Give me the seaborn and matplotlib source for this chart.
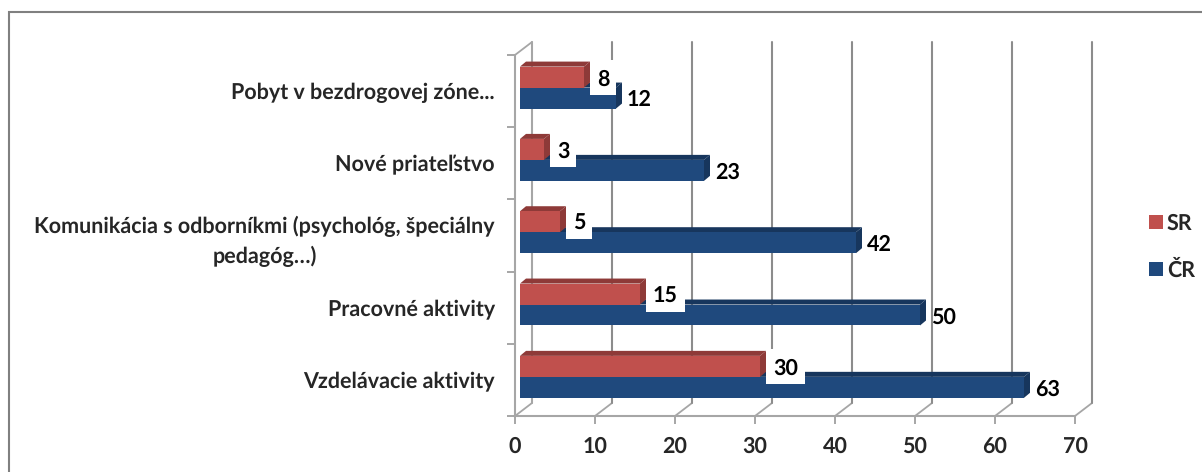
import matplotlib
matplotlib.use("Agg")
import matplotlib.pyplot as plt
import seaborn as sns
import pandas as pd
from matplotlib.lines import Line2D
from matplotlib.patches import Polygon, Rectangle, Patch
from matplotlib.transforms import IdentityTransform

categories = ["Pobyt v bezdrogovej zóne...", "Nové priateľstvo",
              "Komunikácia s odborníkmi (psychológ, špeciálny\npedagóg…)",
              "Pracovné aktivity", "Vzdelávacie aktivity"]
series_names = ["SR", "ČR"]
sr_values = [8, 3, 5, 15, 30]
cr_values = [12, 23, 42, 50, 63]
x_ticks = [0, 10, 20, 30, 40, 50, 60, 70]

RED, BLUE = "#C0504D", "#1F497D"
DARK = {RED: "#8E3A38", BLUE: "#17365D"}
AXC = "#A6A6A6"
GRID = "#8C8C8C"
FS = 15.5

W, H = 1202, 472
sns.set_theme(style="white")
plt.rcParams['font.family'] = ['Lato', 'DejaVu Sans']
plt.rcParams['font.weight'] = 'bold'
plt.rcParams['text.hinting'] = 'no_hinting'
fig = plt.figure(figsize=(W / 100, H / 100), dpi=100)

def px_axes(l, t, r, b, **kw):
    return fig.add_axes([l / W, 1 - b / H, (r - l) / W, (b - t) / H], **kw)

# chart border (only left and top fall inside the crop)
fig.add_artist(Line2D([9 / W, 9 / W, 1], [0, 1 - 12 / H, 1 - 12 / H], transform=fig.transFigure,
                      color="#808080", lw=1.5, solid_joinstyle="miter"))

# frame axes: floor + left wall + back wall
fr = px_axes(515, 55, 1075, 416, facecolor="none")
fr.set_xlim(0, 70)
fr.set_ylim(0, 5)
for s in ("top", "right"):
    fr.spines[s].set_visible(False)
for s in ("left", "bottom"):
    fr.spines[s].set_color(AXC)
    fr.spines[s].set_linewidth(1.5)
dx, dy = 17 / 8, 13 / (361 / 5)
for v in x_ticks:
    fr.plot([v, v + dx], [0, dy], color=AXC, lw=1.3, clip_on=False, zorder=1)
    fr.plot([v + dx, v + dx], [dy, 5 + dy], color=GRID if v else AXC, lw=1.5, clip_on=False, zorder=1)
fr.plot([0, dx], [5, 5 + dy], color=AXC, lw=1.3, clip_on=False, zorder=1)
fr.set_xticks(x_ticks)
fr.set_yticks(range(6))
fr.set_yticklabels([])
fr.set_yticks([i + .5 for i in range(5)], categories[::-1], minor=True, ha="right",
              multialignment="center", fontsize=FS, linespacing=1.5)
fr.tick_params(axis="y", which="minor", length=0, pad=14.4)
fr.tick_params(axis="both", which="major", length=5.5, width=1.4, color=AXC, left=True, bottom=True)
fr.tick_params(axis="x", labelsize=FS, pad=9)

# bars axes
ax = px_axes(520, 51.4, 1080, 413, facecolor="none", zorder=3)
df = pd.DataFrame({"cat": categories * 2,
                   "val": sr_values + cr_values,
                   "ser": [series_names[0]] * 5 + [series_names[1]] * 5})
sns.barplot(data=df, y="cat", x="val", hue="ser", hue_order=series_names, order=categories,
            palette=[RED, BLUE], saturation=1, width=0.58, gap=0, legend=False, ax=ax,
            edgecolor="none", zorder=5)
ax.set_xlim(0, 70)
ax.set_ylim(4.5, -0.5)
ax.axis("off")
ex, ey = 6 / 8, 5 / (361.6 / 5)
bars = [p for p in ax.patches if p.get_width() > 0]
renderer = fig.canvas.get_renderer()
for p in bars:
    is_red = abs(p.get_facecolor()[0] - 0.753) < .01
    col = RED if is_red else BLUE
    x1, y0, h = p.get_width(), p.get_y(), p.get_height()
    z = 4 if col == BLUE else 7
    p.set_zorder(z + 1)
    ax.add_patch(Polygon([(0, y0), (x1, y0), (x1 + ex, y0 - ey), (ex, y0 - ey)], fc=DARK[col], ec="none", zorder=z))
    ax.add_patch(Polygon([(x1, y0), (x1 + ex, y0 - ey), (x1 + ex, y0 + h - ey), (x1, y0 + h)], fc=DARK[col], ec="none", zorder=z))
    t = ax.annotate(f"{int(x1)}", (x1 + ex, y0 + h / 2), xytext=(5 if is_red else 3.6, -1.5), textcoords="offset points",
                    ha="left", va="center", fontsize=FS, color="black", zorder=12)
    if is_red:
        bb = t.get_window_extent(renderer)
        cy = ax.transData.transform((0, y0 + h / 2))[1]
        ax.add_patch(Rectangle((bb.x0 - 7, cy - 17.5), bb.width + 14, 35, transform=IdentityTransform(),
                               fc="white", ec="none", zorder=11))

handles = [Patch(fc=RED, ec="none"), Patch(fc=BLUE, ec="none")]
fig.legend(handles, series_names, loc="upper left", bbox_to_anchor=(1149 / W, 1 - 213 / H), frameon=False,
           fontsize=FS, handlelength=0.63, handleheight=0.63, handletextpad=0.2, labelspacing=1.25,
           borderpad=0, borderaxespad=0)

fig.savefig("out.png", dpi=100)
